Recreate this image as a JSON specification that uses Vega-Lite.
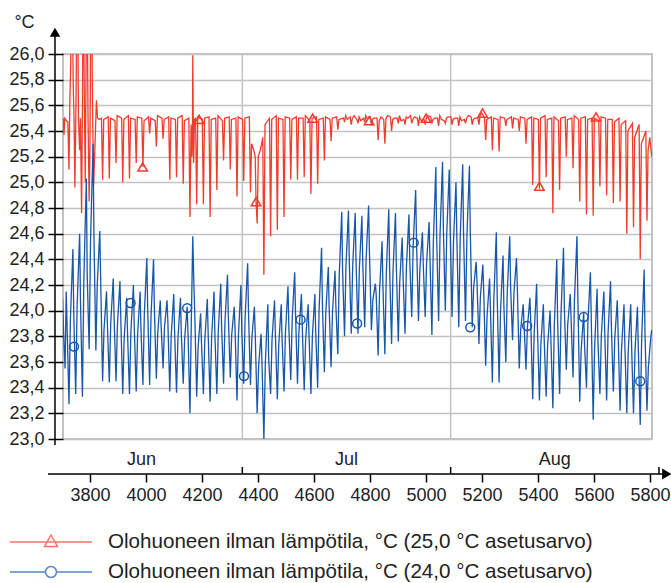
{
"$schema": "https://vega.github.io/schema/vega-lite/v6.json",
"width": 589, "height": 385, "autosize": "none",
"padding": {"left": 63, "top": 54, "right": 19, "bottom": 144},
"background": "white",
"config": {"font": "Liberation Sans", "view": {"stroke": "#c3c3c3", "strokeWidth": 2}},
"datasets": {
"r": [{"h":3703,"t":25.5},{"h":3705,"t":25.49},{"h":3707,"t":25.37},{"h":3710,"t":25.5},{"h":3716,"t":25.48},{"h":3721,"t":25.47},{"h":3725,"t":25.1},{"h":3728,"t":25.63},{"h":3731,"t":25.9},{"h":3734,"t":26.4},{"h":3737,"t":26.4},{"h":3740,"t":25.78},{"h":3743,"t":25.5},{"h":3746,"t":24.96},{"h":3750,"t":25.6},{"h":3753,"t":26.4},{"h":3756,"t":26.4},{"h":3759,"t":25.5},{"h":3763,"t":25.25},{"h":3766,"t":25.5},{"h":3770,"t":24.76},{"h":3773,"t":25.6},{"h":3775,"t":26.4},{"h":3777,"t":26.4},{"h":3780,"t":25.6},{"h":3783,"t":25.0},{"h":3786,"t":25.9},{"h":3788,"t":26.4},{"h":3790,"t":26.4},{"h":3793,"t":25.5},{"h":3797,"t":24.85},{"h":3800,"t":25.3},{"h":3803,"t":26.4},{"h":3806,"t":26.4},{"h":3809,"t":25.6},{"h":3813,"t":24.98},{"h":3818,"t":25.3},{"h":3823,"t":25.64},{"h":3827,"t":25.5},{"h":3833,"t":25.49},
{"h":3841,"t":25.5},{"h":3845,"t":25.02},{"h":3849,"t":25.49},
{"h":3865,"t":25.51},{"h":3869,"t":25.03},{"h":3873,"t":25.5},
{"h":3889,"t":25.48},{"h":3893,"t":25.15},{"h":3897,"t":25.52},
{"h":3913,"t":25.5},{"h":3917,"t":25.0},{"h":3921,"t":25.49},
{"h":3937,"t":25.52},{"h":3941,"t":25.03},{"h":3945,"t":25.5},
{"h":3961,"t":25.49},{"h":3965,"t":25.15},{"h":3969,"t":25.51},
{"h":3985,"t":25.5},{"h":3989,"t":25.12},{"h":3993,"t":25.48},
{"h":4009,"t":25.51},{"h":4013,"t":25.38},{"h":4017,"t":25.5},
{"h":4033,"t":25.48},{"h":4037,"t":25.28},{"h":4041,"t":25.52},
{"h":4057,"t":25.5},{"h":4061,"t":25.34},{"h":4065,"t":25.49},
{"h":4081,"t":25.51},{"h":4085,"t":25.02},{"h":4089,"t":25.5},
{"h":4105,"t":25.49},{"h":4109,"t":25.04},{"h":4113,"t":25.5},
{"h":4129,"t":25.52},{"h":4133,"t":24.99},{"h":4137,"t":25.48},
{"h":4153,"t":25.5},{"h":4157,"t":24.73},{"h":4161,"t":25.45},{"h":4164,"t":25.2},{"h":4166,"t":25.35},{"h":4167,"t":25.99},{"h":4168,"t":25.7},{"h":4170,"t":25.15},{"h":4173,"t":25.49},
{"h":4177,"t":25.5},{"h":4181,"t":24.83},{"h":4185,"t":25.51},
{"h":4201,"t":25.49},{"h":4205,"t":24.83},{"h":4209,"t":25.5},
{"h":4225,"t":25.51},{"h":4229,"t":24.73},{"h":4233,"t":25.49},
{"h":4249,"t":25.5},{"h":4253,"t":24.94},{"h":4257,"t":25.52},
{"h":4273,"t":25.48},{"h":4277,"t":25.17},{"h":4281,"t":25.5},
{"h":4297,"t":25.51},{"h":4301,"t":25.1},{"h":4305,"t":25.49},
{"h":4321,"t":25.5},{"h":4325,"t":24.89},{"h":4329,"t":25.51},
{"h":4345,"t":25.49},{"h":4349,"t":25.01},{"h":4353,"t":25.5},
{"h":4369,"t":25.51},{"h":4373,"t":24.92},{"h":4377,"t":25.3},{"h":4385,"t":25.25},{"h":4390,"t":25.2},
{"h":4393,"t":24.85},{"h":4397,"t":24.68},{"h":4401,"t":25.2},{"h":4408,"t":25.25},{"h":4413,"t":25.3},
{"h":4417,"t":25.35},{"h":4421,"t":24.28},{"h":4425,"t":25.45},
{"h":4441,"t":25.5},{"h":4445,"t":24.58},{"h":4449,"t":25.49},
{"h":4465,"t":25.52},{"h":4469,"t":24.63},{"h":4473,"t":25.5},
{"h":4489,"t":25.49},{"h":4493,"t":24.73},{"h":4497,"t":25.51},
{"h":4513,"t":25.5},{"h":4517,"t":25.02},{"h":4521,"t":25.49},
{"h":4537,"t":25.51},{"h":4541,"t":25.02},{"h":4545,"t":25.5},
{"h":4561,"t":25.5},{"h":4565,"t":25.04},{"h":4569,"t":25.52},
{"h":4585,"t":25.48},{"h":4589,"t":24.91},{"h":4593,"t":25.5},
{"h":4609,"t":25.51},{"h":4613,"t":24.99},{"h":4617,"t":25.49},
{"h":4633,"t":25.5},{"h":4637,"t":25.17},{"h":4641,"t":25.51},
{"h":4657,"t":25.49},{"h":4661,"t":25.32},{"h":4665,"t":25.5},
{"h":4681,"t":25.51},{"h":4685,"t":25.41},{"h":4689,"t":25.49},
{"h":4705,"t":25.5},{"h":4709,"t":25.47},{"h":4713,"t":25.52},{"h":4719,"t":25.49},
{"h":4729,"t":25.51},{"h":4733,"t":25.45},{"h":4737,"t":25.5},{"h":4743,"t":25.52},
{"h":4753,"t":25.49},{"h":4757,"t":25.46},{"h":4761,"t":25.51},{"h":4767,"t":25.48},
{"h":4777,"t":25.5},{"h":4781,"t":25.47},{"h":4785,"t":25.52},{"h":4791,"t":25.49},
{"h":4801,"t":25.51},{"h":4805,"t":25.44},{"h":4809,"t":25.49},{"h":4815,"t":25.5},
{"h":4825,"t":25.5},{"h":4829,"t":25.33},{"h":4833,"t":25.48},{"h":4839,"t":25.51},
{"h":4849,"t":25.49},{"h":4853,"t":25.3},{"h":4857,"t":25.5},{"h":4863,"t":25.52},
{"h":4873,"t":25.51},{"h":4877,"t":25.4},{"h":4881,"t":25.49},{"h":4887,"t":25.5},
{"h":4897,"t":25.5},{"h":4901,"t":25.46},{"h":4905,"t":25.52},{"h":4911,"t":25.48},
{"h":4921,"t":25.49},{"h":4925,"t":25.45},{"h":4929,"t":25.51},{"h":4935,"t":25.5},
{"h":4945,"t":25.52},{"h":4949,"t":25.46},{"h":4953,"t":25.49},{"h":4959,"t":25.51},
{"h":4969,"t":25.5},{"h":4973,"t":25.44},{"h":4977,"t":25.51},{"h":4983,"t":25.48},
{"h":4993,"t":25.49},{"h":4997,"t":25.45},{"h":5001,"t":25.5},{"h":5007,"t":25.52},
{"h":5017,"t":25.51},{"h":5021,"t":25.46},{"h":5025,"t":25.49},{"h":5031,"t":25.5},
{"h":5041,"t":25.5},{"h":5045,"t":25.44},{"h":5049,"t":25.52},{"h":5055,"t":25.49},
{"h":5065,"t":25.48},{"h":5069,"t":25.46},{"h":5073,"t":25.5},{"h":5079,"t":25.51},
{"h":5089,"t":25.51},{"h":5093,"t":25.45},{"h":5097,"t":25.49},{"h":5103,"t":25.5},
{"h":5113,"t":25.5},{"h":5117,"t":25.44},{"h":5121,"t":25.51},{"h":5127,"t":25.48},
{"h":5137,"t":25.49},{"h":5141,"t":25.46},{"h":5145,"t":25.5},{"h":5151,"t":25.52},
{"h":5161,"t":25.51},{"h":5165,"t":25.45},{"h":5169,"t":25.49},{"h":5175,"t":25.5},
{"h":5185,"t":25.5},{"h":5189,"t":25.45},{"h":5193,"t":25.52},{"h":5199,"t":25.54},
{"h":5209,"t":25.5},{"h":5213,"t":25.33},{"h":5217,"t":25.49},
{"h":5233,"t":25.51},{"h":5237,"t":25.25},{"h":5241,"t":25.5},
{"h":5257,"t":25.49},{"h":5261,"t":25.24},{"h":5265,"t":25.51},
{"h":5281,"t":25.5},{"h":5285,"t":25.44},{"h":5289,"t":25.49},
{"h":5305,"t":25.51},{"h":5309,"t":25.42},{"h":5313,"t":25.5},
{"h":5329,"t":25.49},{"h":5333,"t":25.4},{"h":5337,"t":25.51},
{"h":5353,"t":25.5},{"h":5357,"t":25.3},{"h":5361,"t":25.49},
{"h":5377,"t":25.51},{"h":5381,"t":24.98},{"h":5385,"t":25.5},
{"h":5401,"t":25.49},{"h":5405,"t":24.95},{"h":5409,"t":25.5},
{"h":5425,"t":25.52},{"h":5429,"t":25.04},{"h":5433,"t":25.49},
{"h":5449,"t":25.5},{"h":5453,"t":24.76},{"h":5457,"t":25.51},
{"h":5473,"t":25.48},{"h":5477,"t":24.94},{"h":5481,"t":25.5},
{"h":5497,"t":25.51},{"h":5501,"t":25.2},{"h":5505,"t":25.49},
{"h":5521,"t":25.5},{"h":5525,"t":25.11},{"h":5529,"t":25.52},
{"h":5545,"t":25.49},{"h":5549,"t":24.85},{"h":5553,"t":25.5},
{"h":5569,"t":25.51},{"h":5573,"t":24.75},{"h":5577,"t":25.49},
{"h":5593,"t":25.5},{"h":5597,"t":24.74},{"h":5601,"t":25.5},
{"h":5617,"t":25.48},{"h":5621,"t":24.97},{"h":5625,"t":25.51},
{"h":5641,"t":25.5},{"h":5645,"t":24.9},{"h":5649,"t":25.49},
{"h":5665,"t":25.49},{"h":5669,"t":24.84},{"h":5673,"t":25.47},
{"h":5689,"t":25.5},{"h":5693,"t":24.85},{"h":5697,"t":25.45},
{"h":5713,"t":25.48},{"h":5717,"t":24.6},{"h":5721,"t":25.4},
{"h":5737,"t":25.46},{"h":5741,"t":24.65},{"h":5745,"t":25.35},
{"h":5761,"t":25.45},{"h":5765,"t":24.4},{"h":5769,"t":25.3},
{"h":5785,"t":25.4},{"h":5789,"t":24.7},{"h":5793,"t":25.25},{"h":5799,"t":25.35},{"h":5806,"t":25.2}],
"b": [{"h":3702,"t":24.1},{"h":3707,"t":23.75},{"h":3711,"t":23.55},{"h":3715,"t":24.15},{"h":3718,"t":23.9},
{"h":3725,"t":23.27},{"h":3730,"t":23.93},{"h":3739,"t":24.48},{"h":3742,"t":23.98},
{"h":3749,"t":23.35},{"h":3754,"t":24.03},{"h":3763,"t":24.6},{"h":3766,"t":24.08},
{"h":3773,"t":23.33},{"h":3778,"t":24.23},{"h":3787,"t":25.03},{"h":3790,"t":24.28},
{"h":3797,"t":23.7},{"h":3802,"t":24.55},{"h":3811,"t":25.3},{"h":3814,"t":24.6},
{"h":3821,"t":23.69},{"h":3826,"t":24.21},{"h":3835,"t":24.62},{"h":3838,"t":24.26},
{"h":3845,"t":23.45},{"h":3850,"t":23.85},{"h":3859,"t":24.15},{"h":3862,"t":23.9},
{"h":3869,"t":23.44},{"h":3874,"t":23.9},{"h":3883,"t":24.25},{"h":3886,"t":23.95},
{"h":3893,"t":23.45},{"h":3898,"t":23.89},{"h":3907,"t":24.23},{"h":3910,"t":23.94},
{"h":3917,"t":23.35},{"h":3922,"t":23.78},{"h":3931,"t":24.1},{"h":3934,"t":23.83},
{"h":3941,"t":23.35},{"h":3946,"t":23.83},{"h":3955,"t":24.2},{"h":3958,"t":23.88},
{"h":3965,"t":23.37},{"h":3970,"t":23.81},{"h":3979,"t":24.15},{"h":3982,"t":23.86},
{"h":3989,"t":23.42},{"h":3994,"t":23.97},{"h":4003,"t":24.41},{"h":4006,"t":24.02},
{"h":4013,"t":23.42},{"h":4018,"t":23.96},{"h":4027,"t":24.4},{"h":4030,"t":24.01},
{"h":4037,"t":23.47},{"h":4042,"t":23.83},{"h":4051,"t":24.08},{"h":4054,"t":23.88},
{"h":4061,"t":23.55},{"h":4066,"t":23.87},{"h":4075,"t":24.08},{"h":4078,"t":23.92},
{"h":4085,"t":23.37},{"h":4090,"t":23.8},{"h":4099,"t":24.13},{"h":4102,"t":23.85},
{"h":4109,"t":23.36},{"h":4114,"t":23.78},{"h":4123,"t":24.1},{"h":4126,"t":23.83},
{"h":4133,"t":23.43},{"h":4138,"t":23.78},{"h":4147,"t":24.03},{"h":4150,"t":23.83},
{"h":4157,"t":23.2},{"h":4162,"t":23.94},{"h":4167,"t":24.58},{"h":4171,"t":24.2},{"h":4174,"t":23.99},
{"h":4181,"t":23.33},{"h":4186,"t":23.71},{"h":4195,"t":23.98},{"h":4198,"t":23.76},
{"h":4205,"t":23.35},{"h":4210,"t":23.77},{"h":4219,"t":24.09},{"h":4222,"t":23.82},
{"h":4229,"t":23.29},{"h":4234,"t":23.77},{"h":4243,"t":24.15},{"h":4246,"t":23.82},
{"h":4253,"t":23.35},{"h":4258,"t":23.83},{"h":4267,"t":24.21},{"h":4270,"t":23.88},
{"h":4277,"t":23.43},{"h":4282,"t":23.91},{"h":4291,"t":24.28},{"h":4294,"t":23.96},
{"h":4301,"t":23.48},{"h":4306,"t":23.81},{"h":4315,"t":24.03},{"h":4318,"t":23.86},
{"h":4325,"t":23.3},{"h":4330,"t":23.8},{"h":4339,"t":24.2},{"h":4342,"t":23.85},
{"h":4349,"t":23.43},{"h":4354,"t":23.95},{"h":4363,"t":24.37},{"h":4366,"t":24.0},
{"h":4373,"t":23.42},{"h":4378,"t":23.78},{"h":4387,"t":24.03},{"h":4390,"t":23.83},
{"h":4397,"t":23.2},{"h":4402,"t":23.56},{"h":4411,"t":23.82},{"h":4414,"t":23.61},
{"h":4421,"t":23.0},{"h":4426,"t":23.58},{"h":4435,"t":24.05},{"h":4438,"t":23.63},
{"h":4445,"t":23.35},{"h":4450,"t":23.77},{"h":4459,"t":24.08},{"h":4462,"t":23.82},
{"h":4469,"t":23.31},{"h":4474,"t":23.73},{"h":4483,"t":24.05},{"h":4486,"t":23.78},
{"h":4493,"t":23.37},{"h":4498,"t":23.83},{"h":4507,"t":24.19},{"h":4510,"t":23.88},
{"h":4517,"t":23.46},{"h":4522,"t":23.93},{"h":4531,"t":24.3},{"h":4534,"t":23.98},
{"h":4541,"t":23.43},{"h":4546,"t":23.83},{"h":4555,"t":24.13},{"h":4558,"t":23.88},
{"h":4565,"t":23.38},{"h":4570,"t":23.77},{"h":4579,"t":24.05},{"h":4582,"t":23.82},
{"h":4589,"t":23.35},{"h":4594,"t":23.79},{"h":4603,"t":24.13},{"h":4606,"t":23.84},
{"h":4613,"t":23.4},{"h":4618,"t":24.0},{"h":4627,"t":24.49},{"h":4630,"t":24.05},
{"h":4637,"t":23.52},{"h":4642,"t":23.98},{"h":4651,"t":24.34},{"h":4654,"t":24.03},
{"h":4661,"t":23.56},{"h":4666,"t":23.99},{"h":4675,"t":24.31},{"h":4678,"t":24.04},
{"h":4685,"t":23.66},{"h":4690,"t":24.27},{"h":4699,"t":24.77},{"h":4702,"t":24.32},
{"h":4709,"t":23.8},{"h":4714,"t":24.34},{"h":4723,"t":24.78},{"h":4726,"t":24.39},
{"h":4733,"t":23.82},{"h":4738,"t":24.34},{"h":4747,"t":24.76},{"h":4750,"t":24.39},
{"h":4757,"t":23.82},{"h":4762,"t":24.33},{"h":4771,"t":24.74},{"h":4774,"t":24.38},
{"h":4781,"t":23.87},{"h":4786,"t":24.4},{"h":4795,"t":24.82},{"h":4798,"t":24.45},
{"h":4805,"t":23.85},{"h":4810,"t":24.08},{"h":4819,"t":24.21},{"h":4822,"t":24.13},
{"h":4829,"t":23.65},{"h":4834,"t":24.15},{"h":4843,"t":24.54},{"h":4846,"t":24.2},
{"h":4853,"t":23.66},{"h":4858,"t":24.28},{"h":4867,"t":24.79},{"h":4870,"t":24.33},
{"h":4877,"t":23.74},{"h":4882,"t":24.3},{"h":4891,"t":24.76},{"h":4894,"t":24.35},
{"h":4901,"t":23.76},{"h":4906,"t":24.22},{"h":4915,"t":24.57},{"h":4918,"t":24.27},
{"h":4925,"t":23.82},{"h":4930,"t":24.34},{"h":4939,"t":24.75},{"h":4942,"t":24.39},
{"h":4949,"t":23.95},{"h":4954,"t":24.5},{"h":4963,"t":24.94},{"h":4966,"t":24.55},
{"h":4973,"t":23.92},{"h":4978,"t":24.32},{"h":4987,"t":24.61},{"h":4990,"t":24.37},
{"h":4997,"t":23.95},{"h":5002,"t":24.37},{"h":5011,"t":24.69},{"h":5014,"t":24.42},
{"h":5021,"t":23.81},{"h":5026,"t":24.52},{"h":5035,"t":25.12},{"h":5038,"t":24.57},
{"h":5045,"t":23.92},{"h":5050,"t":24.59},{"h":5059,"t":25.16},{"h":5062,"t":24.64},
{"h":5069,"t":24.0},{"h":5074,"t":24.6},{"h":5083,"t":25.1},{"h":5086,"t":24.65},
{"h":5093,"t":23.95},{"h":5098,"t":24.53},{"h":5107,"t":25.0},{"h":5110,"t":24.58},
{"h":5117,"t":23.87},{"h":5122,"t":24.56},{"h":5131,"t":25.14},{"h":5134,"t":24.61},
{"h":5141,"t":23.92},{"h":5146,"t":24.58},{"h":5155,"t":25.13},{"h":5158,"t":24.63},
{"h":5165,"t":23.87},{"h":5170,"t":24.18},{"h":5179,"t":24.38},{"h":5182,"t":24.23},
{"h":5189,"t":23.74},{"h":5194,"t":24.1},{"h":5203,"t":24.36},{"h":5206,"t":24.15},
{"h":5213,"t":23.57},{"h":5218,"t":23.96},{"h":5227,"t":24.25},{"h":5230,"t":24.01},
{"h":5237,"t":23.44},{"h":5242,"t":24.08},{"h":5251,"t":24.61},{"h":5254,"t":24.13},
{"h":5261,"t":23.44},{"h":5266,"t":23.99},{"h":5275,"t":24.43},{"h":5278,"t":24.04},
{"h":5285,"t":23.6},{"h":5290,"t":24.14},{"h":5299,"t":24.58},{"h":5302,"t":24.19},
{"h":5309,"t":23.77},{"h":5314,"t":24.14},{"h":5323,"t":24.41},{"h":5326,"t":24.19},
{"h":5333,"t":23.55},{"h":5338,"t":23.85},{"h":5347,"t":24.05},{"h":5350,"t":23.9},
{"h":5357,"t":23.54},{"h":5362,"t":23.87},{"h":5371,"t":24.1},{"h":5374,"t":23.92},
{"h":5381,"t":23.31},{"h":5386,"t":23.81},{"h":5395,"t":24.21},{"h":5398,"t":23.86},
{"h":5405,"t":23.3},{"h":5410,"t":23.73},{"h":5419,"t":24.05},{"h":5422,"t":23.78},
{"h":5429,"t":23.33},{"h":5434,"t":23.72},{"h":5443,"t":24.0},{"h":5446,"t":23.77},
{"h":5453,"t":23.24},{"h":5458,"t":23.87},{"h":5467,"t":24.4},{"h":5470,"t":23.92},
{"h":5477,"t":23.35},{"h":5482,"t":23.97},{"h":5491,"t":24.49},{"h":5494,"t":24.02},
{"h":5501,"t":23.54},{"h":5506,"t":23.89},{"h":5515,"t":24.13},{"h":5518,"t":23.94},
{"h":5525,"t":23.48},{"h":5530,"t":24.08},{"h":5539,"t":24.58},{"h":5542,"t":24.13},
{"h":5549,"t":23.29},{"h":5554,"t":23.69},{"h":5563,"t":23.98},{"h":5566,"t":23.74},
{"h":5573,"t":23.4},{"h":5578,"t":23.9},{"h":5587,"t":24.3},{"h":5590,"t":23.95},
{"h":5597,"t":23.15},{"h":5602,"t":23.71},{"h":5611,"t":24.17},{"h":5614,"t":23.76},
{"h":5621,"t":23.35},{"h":5626,"t":23.8},{"h":5635,"t":24.15},{"h":5638,"t":23.85},
{"h":5645,"t":23.3},{"h":5650,"t":23.82},{"h":5659,"t":24.23},{"h":5662,"t":23.87},
{"h":5669,"t":23.37},{"h":5674,"t":23.78},{"h":5683,"t":24.08},{"h":5686,"t":23.83},
{"h":5693,"t":23.22},{"h":5698,"t":23.69},{"h":5707,"t":24.05},{"h":5710,"t":23.74},
{"h":5717,"t":23.2},{"h":5722,"t":23.68},{"h":5731,"t":24.05},{"h":5734,"t":23.73},
{"h":5741,"t":23.2},{"h":5746,"t":23.67},{"h":5755,"t":24.03},{"h":5758,"t":23.72},
{"h":5765,"t":23.11},{"h":5770,"t":23.77},{"h":5779,"t":24.32},{"h":5782,"t":23.82},
{"h":5789,"t":23.22},{"h":5794,"t":23.56},{"h":5803,"t":23.8},{"h":5806,"t":23.85}],
"mr": [{"h":3988,"t":25.12},{"h":4190,"t":25.49},{"h":4393,"t":24.85},{"h":4595,"t":25.5},{"h":4797,"t":25.48},{"h":5000,"t":25.5},{"h":5202,"t":25.54},{"h":5405,"t":24.97},{"h":5607,"t":25.51}],
"mb": [{"h":3743,"t":23.72},{"h":3945,"t":24.06},{"h":4147,"t":24.02},{"h":4350,"t":23.49},{"h":4552,"t":23.93},{"h":4754,"t":23.9},{"h":4956,"t":24.53},{"h":5158,"t":23.87},{"h":5361,"t":23.88},{"h":5563,"t":23.95},{"h":5765,"t":23.45}]
},
"layer": [
{"data": {"name":"r"}, "mark": {"type":"line","color":"#f03c2c","strokeWidth":1.2,"strokeOpacity":0,"clip":true},
 "encoding": {
  "x": {"field":"h","type":"quantitative","title":null,"scale":{"domain":[3703.6,5807],"nice":false,"zero":false},
   "axis":{"title":null,"values":[3800,4000,4200,4400,4600,4800,5000,5200,5400,5600,5800],"tickCount":20,"format":"d","grid":false,"domain":false,"offset":35,"tickColor":"#000","tickSize":8,"tickWidth":1.5,"labelFontSize":18,"labelColor":"#222","labelPadding":4,"labelFlush":false,"labelOverlap":false}},
  "y": {"field":"t","type":"quantitative","title":"°C","scale":{"domain":[23,26],"nice":false,"zero":false},
   "axis":{"title":"°C","titleAngle":0,"titleX":-39,"titleY":-32,"titleAlign":"center","titleBaseline":"middle","titleFontSize":18,"titleFontWeight":"normal","titleColor":"#222","values":[23,23.2,23.4,23.6,23.8,24,24.2,24.4,24.6,24.8,25,25.2,25.4,25.6,25.8,26],"tickCount":30,"labelExpr":"replace(format(datum.value,'.1f'),'.',',')","grid":true,"gridColor":"#c3c3c3","gridWidth":1.5,"domain":false,"tickColor":"#000","tickSize":15,"tickWidth":1.5,"labelFontSize":18,"labelColor":"#222","labelPadding":4,"labelFlush":false,"labelOverlap":false}}
 }},
{"data": {"values": [{"h":4344},{"h":5088}]}, "mark": {"type":"rule","color":"#c3c3c3","strokeWidth":1.5},
 "encoding": {"x": {"field":"h","type":"quantitative","title":null}}},
{"data": {"name":"r"}, "mark": {"type":"line","color":"#f03c2c","strokeWidth":1.3,"clip":true},
 "encoding": {"x": {"field":"h","type":"quantitative","title":null}, "y": {"field":"t","type":"quantitative","title":"°C"}}},
{"data": {"name":"b"}, "mark": {"type":"line","color":"#1756a9","strokeWidth":1.3,"clip":true},
 "encoding": {"x": {"field":"h","type":"quantitative","title":null}, "y": {"field":"t","type":"quantitative","title":"°C"}}},
{"data": {"name":"mr"}, "mark": {"type":"point","shape":"triangle-up","filled":false,"color":"#f03c2c","strokeWidth":1.5,"size":90,"opacity":1},
 "encoding": {"x": {"field":"h","type":"quantitative","title":null}, "y": {"field":"t","type":"quantitative","title":"°C"}}},
{"data": {"name":"mb"}, "mark": {"type":"point","shape":"circle","filled":false,"color":"#1756a9","strokeWidth":1.5,"size":80,"opacity":1},
 "encoding": {"x": {"field":"h","type":"quantitative","title":null}, "y": {"field":"t","type":"quantitative","title":"°C"}}},
{"data": {"values": [{"s":"Olohuoneen ilman lämpötila, °C (25,0 °C asetusarvo)"},{"s":"Olohuoneen ilman lämpötila, °C (24,0 °C asetusarvo)"}]},
 "transform": [{"filter":"false"}],
 "mark": {"type":"point","filled":false,"strokeWidth":1.5},
 "encoding": {
  "color": {"field":"s","type":"nominal","scale":{"domain":["Olohuoneen ilman lämpötila, °C (25,0 °C asetusarvo)","Olohuoneen ilman lämpötila, °C (24,0 °C asetusarvo)"],"range":["#f03c2c","#1756a9"]},
   "legend":{"orient":"none","legendX":-23,"legendY":477,"title":null,"padding":0,"symbolSize":400,"symbolStrokeWidth":1.5,"labelFontSize":20.6,"labelColor":"#222","labelLimit":1000,"labelOffset":46,"rowPadding":8}},
  "shape": {"field":"s","type":"nominal","scale":{"domain":["Olohuoneen ilman lämpötila, °C (25,0 °C asetusarvo)","Olohuoneen ilman lämpötila, °C (24,0 °C asetusarvo)"],"range":["M-4.1,0H4.1M0,-0.7L0.65,0.45H-0.65Z","M-4.1,0H-0.55M0.55,0H4.1M0.55,0A0.55,0.55,0,1,1,-0.55,0A0.55,0.55,0,1,1,0.55,0"]},
   "legend":{"orient":"none","legendX":-23,"legendY":477,"title":null,"padding":0,"symbolSize":400,"symbolStrokeWidth":1.5,"labelFontSize":20.6,"labelColor":"#222","labelLimit":1000,"labelOffset":46,"rowPadding":8}}
 }},
{"data": {"values": [{"h":3984,"m":"Jun"},{"h":4716,"m":"Jul"},{"h":5460,"m":"Aug"}]},
 "mark": {"type":"text","fontSize":18,"color":"#222","align":"center","baseline":"middle","clip":false},
 "encoding": {"x": {"field":"h","type":"quantitative","title":null}, "y": {"datum":22.836,"type":"quantitative"}, "text": {"field":"m"}}},
{"data": {"values": [{"h":4344},{"h":5088},{"h":5832}]},
 "mark": {"type":"rule","color":"#000","strokeWidth":1.5,"clip":false},
 "encoding": {"x": {"field":"h","type":"quantitative","title":null}, "y": {"datum":22.727,"type":"quantitative"}, "y2": {"datum":22.782}}},
{"data": {"values": [{}]}, "mark": {"type":"rule","color":"#000","strokeWidth":1.5,"clip":false},
 "encoding": {"x": {"datum":3650,"type":"quantitative"}, "x2": {"datum":5845}, "y": {"datum":22.727,"type":"quantitative"}}},
{"data": {"values": [{}]}, "mark": {"type":"point","shape":"triangle-right","filled":true,"color":"#000","size":120,"opacity":1,"clip":false},
 "encoding": {"x": {"datum":5860,"type":"quantitative"}, "y": {"datum":22.727,"type":"quantitative"}}},
{"data": {"values": [{}]}, "mark": {"type":"rule","color":"#000","strokeWidth":1.5,"clip":false},
 "encoding": {"x": {"datum":3675,"type":"quantitative"}, "y": {"datum":22.953,"type":"quantitative"}, "y2": {"datum":26.14}}},
{"data": {"values": [{}]}, "mark": {"type":"point","shape":"triangle-up","filled":true,"color":"#000","size":110,"opacity":1,"clip":false},
 "encoding": {"x": {"datum":3675,"type":"quantitative"}, "y": {"datum":26.17,"type":"quantitative"}}}
]
}
